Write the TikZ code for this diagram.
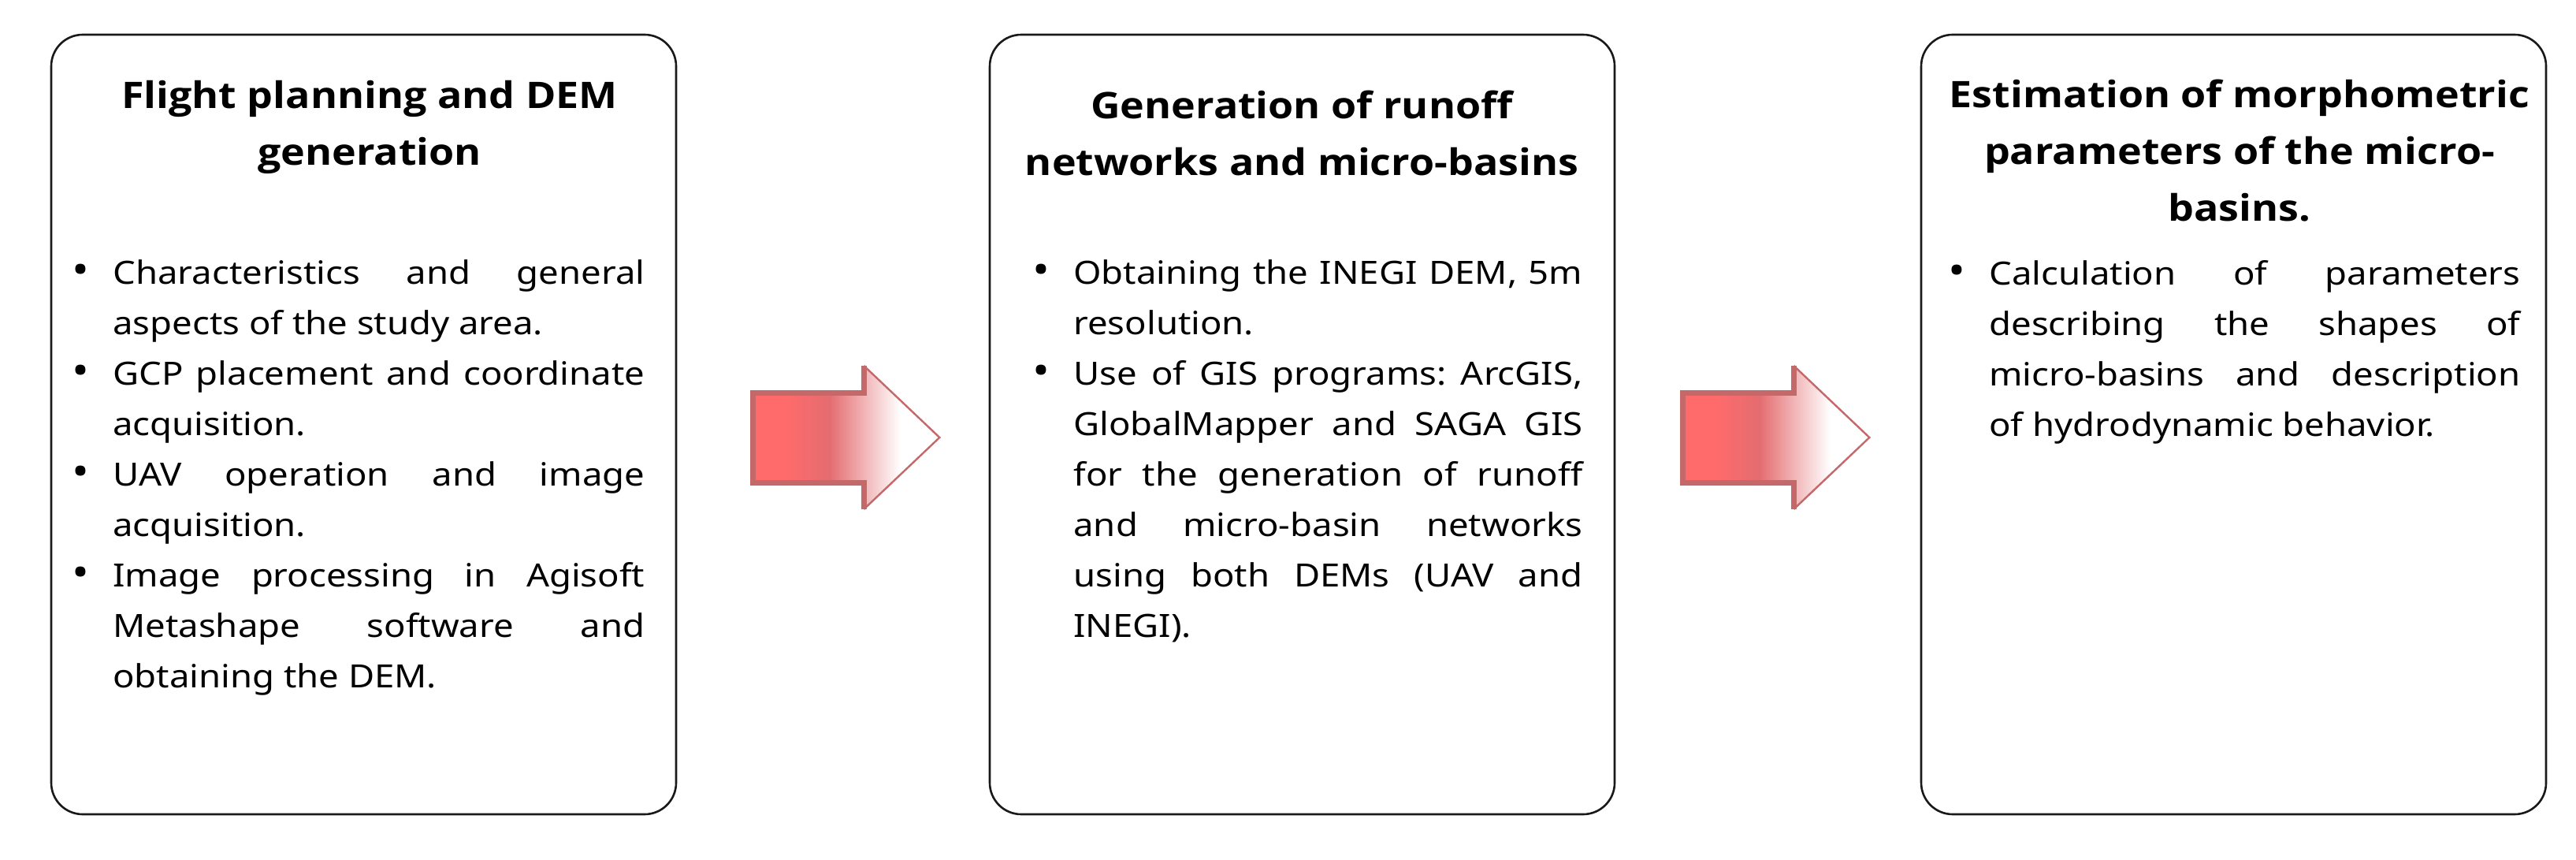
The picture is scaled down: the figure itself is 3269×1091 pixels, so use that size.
\documentclass[tikz,border=0pt]{standalone}
\usepackage{fontspec}
\usepackage{graphicx}
\setmainfont{Noto Sans}
\newfontfamily\headfont{Open Sans}
\usetikzlibrary{calc}
\definecolor{arrA}{RGB}{255,107,107}
\definecolor{arrB}{RGB}{228,108,112}
\definecolor{arrEdge}{RGB}{196,104,106}
\pgfdeclarehorizontalshading{arrowshade}{100bp}{color(0bp)=(arrA); color(25bp)=(arrA); color(34bp)=(arrA); color(45.5bp)=(arrB); color(64.5bp)=(white); color(100bp)=(white)}
\newcommand\jl[1]{\hbox to\hsize{#1}}
\newcommand\nl[1]{\hbox{#1}}
\newcommand\cl[1]{\hbox to\hsize{\hfil#1\hfil}}
\newcommand\bul{\llap{\makebox[0pt][c]{\fontsize{26}{26}\selectfont\textbullet}\hspace{18.3pt}}}
\newcommand\blist[2]{\scalebox{1.12}[1]{\vtop{\hsize=#1\baselineskip=32pt\lineskiplimit=-100pt\spaceskip=0pt\xspaceskip=0pt\frenchspacing #2}}}
\newcommand\tlist[1]{\scalebox{1.12}[1]{\vtop{\hsize=380pt\baselineskip=36pt\lineskiplimit=-100pt #1}}}
\tikzset{
  box/.style={draw=black!90, line width=1.3pt, rounded corners=20pt, minimum width=396.5pt, minimum height=494.5pt, inner sep=0pt},
  title/.style={anchor=base, inner sep=0pt, font=\headfont\bfseries\fontsize{23.2}{36}\selectfont},
  body/.style={anchor=base west, inner sep=0pt, font=\fontsize{20.3}{32}\selectfont},
  arrowfill/.style={shading=arrowshade},
  arrowedge/.style={draw=arrEdge, line width=3.5pt, line join=miter},
  arrowtip/.style={draw=arrEdge, line width=1.2pt, line join=miter}
}
\begin{document}
\begin{tikzpicture}[x=0.5pt,y=-0.5pt]
\useasboundingbox (0,0) rectangle (3269,1091);
\node[box] (b1) at (461.5,538.5) {};
\node[box] (b2) at (1652.5,538.5) {};
\node[box] (b3) at (2834.5,538.5) {};

\node[title] (h1) at (469,138) {\tlist{\cl{Flight planning and DEM}\cl{generation}}};
\node[title] (h2) at (1652,151) {\tlist{\cl{Generation of runoff}\cl{networks and micro-basins}}};
\node[title] (h3) at (2842,136.5) {\tlist{\cl{Estimation of morphometric}\cl{parameters of the micro-}\cl{basins.}}};

\node[body] (t1) at (143,360) {\blist{301.3pt}{%
\jl{\bul Characteristics and general}
\nl{aspects of the study area.}
\jl{\bul GCP placement and coordinate}
\nl{acquisition.}
\jl{\bul UAV operation and image}
\nl{acquisition.}
\jl{\bul Image processing in Agisoft}
\jl{Metashape software and}
\nl{obtaining the DEM.}}};

\node[body] (t2) at (1362,360) {\blist{288.4pt}{%
\jl{\bul Obtaining the INEGI DEM, 5m}
\nl{resolution.}
\jl{\bul Use of GIS programs: ArcGIS,}
\jl{GlobalMapper and SAGA GIS}
\jl{for the generation of runoff}
\jl{and micro-basin networks}
\jl{using both DEMs (UAV and}
\nl{INEGI).}}};

\node[body] (t3) at (2524,361) {\blist{300.9pt}{%
\jl{\bul Calculation of parameters}
\jl{describing the shapes of}
\jl{micro-basins and description}
\nl{of hydrodynamic behavior.}}};

\coordinate (a1) at ([xshift=48pt, yshift=-8.25pt]b1.east);
\coordinate (a2) at ([xshift=42.5pt, yshift=-8.25pt]b2.east);
\foreach \a in {a1,a2}{
  \shade[arrowfill] (\a) ++(0,-57) -- ++(141,0) -- ++(0,-34) -- ++(96,91) -- ++(-96,91) -- ++(0,-34) -- ++(-141,0) -- cycle;
  \draw[arrowedge] (\a) ++(141,-91) -- ++(0,34) -- ++(-141,0) -- ++(0,114) -- ++(141,0) -- ++(0,34);
  \draw[arrowtip] (\a) ++(141,-91) -- ++(96,91) -- ++(-96,91);
}
\end{tikzpicture}
\end{document}
